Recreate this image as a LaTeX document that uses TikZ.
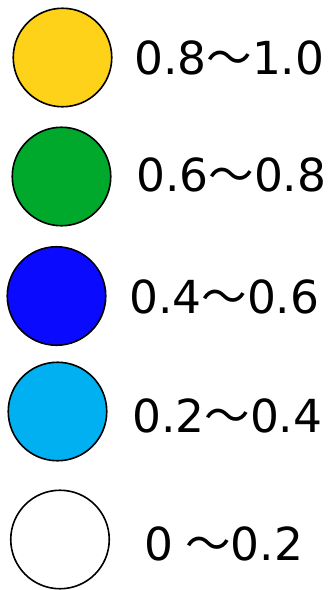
\documentclass[tikz,border=0pt]{standalone}
\usepackage{fontspec}
\setmainfont{DejaVu Sans}
\newfontfamily\cjk{Noto Sans CJK JP}
\definecolor{cyel}{HTML}{FFD21A}
\definecolor{cgrn}{HTML}{00A92C}
\definecolor{cblu}{HTML}{0A0AFF}
\definecolor{clbl}{HTML}{00B0F0}
\newcommand{\wv}{{\cjk ～}}
\begin{document}
\begin{tikzpicture}[x=1pt,y=-1pt,
  dot/.style={circle,draw=black,line width=1.6pt,minimum size=98.5pt,inner sep=0pt},
  lbl/.style={anchor=base west,inner sep=0pt,font=\fontsize{45.5pt}{48pt}\selectfont}]
\useasboundingbox (0,0) rectangle (331,590);
\node[dot,fill=cyel] (c1) at (62.5,57.5) {};
\node[dot,fill=cgrn] (c2) at (61.5,176.5) {};
\node[dot,fill=cblu] (c3) at (56.5,296) {};
\node[dot,fill=clbl] (c4) at (57.5,411.5) {};
\node[dot,fill=white] (c5) at (60,539.5) {};
\node[lbl] (t1) at (134,74) {0.8\wv 1.0};
\node[lbl] (t2) at (136,191) {0.6\wv 0.8};
\node[lbl] (t3) at (129,313) {0.4\wv 0.6};
\node[lbl] (t4) at (132,432) {0.2\wv 0.4};
\node[lbl] (t5) at (144,560) {0\hspace{12pt}\wv 0.2};
\end{tikzpicture}
\end{document}
